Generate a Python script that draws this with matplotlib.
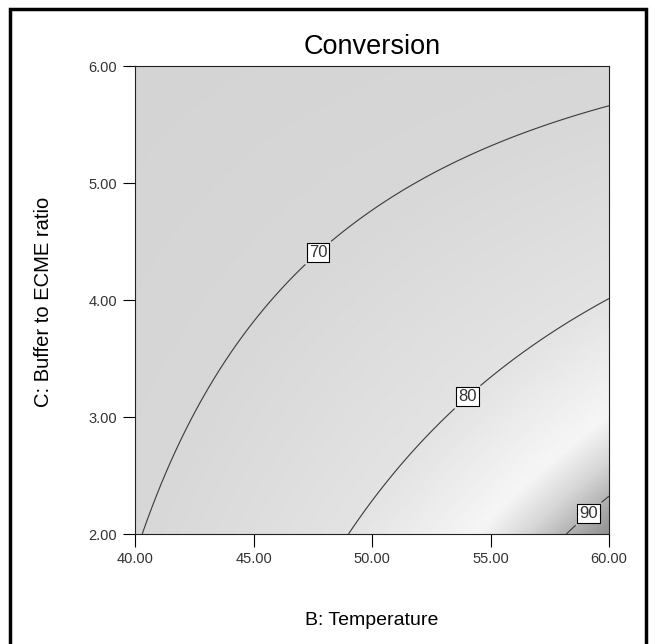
import numpy as np
import matplotlib
matplotlib.use('Agg')
import matplotlib.pyplot as plt
from matplotlib.colors import LinearSegmentedColormap
from matplotlib.patches import Rectangle

plt.rcParams['font.family'] = ['Liberation Sans', 'DejaVu Sans']

# Factor ranges
B_lo, B_hi = 40.0, 60.0      # B: Temperature
C_lo, C_hi = 2.0, 6.0        # C: Buffer to ECME ratio

# Quadratic model for Conversion, in scaled factors
# u = (B - 40)/20, v = (6 - C)/4
b0 = 61.08
b_u, b_v = 8.20, 9.26
b_uv = 15.42
b_uu, b_vv = -1.37, -0.70

levels = [70, 80, 90]
label_pos = [(47.7, 4.41), (53.9, 3.20), (58.8, 2.25)]

xticks = [40.0, 45.0, 50.0, 55.0, 60.0]
yticks = [2.0, 3.0, 4.0, 5.0, 6.0]

def conversion(B, C):
    u = (B - B_lo) / (B_hi - B_lo)
    v = (C_hi - C) / (C_hi - C_lo)
    return b0 + b_u*u + b_v*v + b_uv*u*v + b_uu*u**2 + b_vv*v**2

B = np.linspace(B_lo, B_hi, 300)
C = np.linspace(C_lo, C_hi, 300)
BB, CC = np.meshgrid(B, C)
Z = conversion(BB, CC)

# grey shading: flat grey, light band just under 90, dark in the corner
zmin, zmax = 61.0, 92.0
stops = [(61.0, 0.83), (70.0, 0.845), (80.0, 0.89), (86.0, 0.965),
         (88.3, 0.84), (90.0, 0.71), (92.0, 0.56)]
cmap = LinearSegmentedColormap.from_list(
    'greys_de', [((z - zmin)/(zmax - zmin), (g, g, g)) for z, g in stops])

fig = plt.figure(figsize=(6.55, 6.44), dpi=100)
ax = fig.add_axes([0.2061, 0.1708, 0.7237, 0.7267])

ax.pcolormesh(BB, CC, Z, cmap=cmap, vmin=zmin, vmax=zmax, shading='gouraud')
cs = ax.contour(BB, CC, Z, levels=levels, colors='#3a3a3a', linewidths=0.8)
labels = ax.clabel(cs, fmt='%d', fontsize=12, inline=True, inline_spacing=8,
                   manual=label_pos, colors='#333333')
for t in labels:
    t.set_rotation(0)
    t.set_bbox(dict(boxstyle='square,pad=0.12', fc='white', ec='black', lw=0.8))

ax.set_xlim(B_lo, B_hi)
ax.set_ylim(C_lo, C_hi)
ax.set_xticks(xticks)
ax.set_yticks(yticks)
ax.set_xticklabels(['%.2f' % x for x in xticks])
ax.set_yticklabels(['%.2f' % y for y in yticks])
ax.tick_params(direction='out', length=9, width=0.8, labelsize=10.5,
               labelcolor='#333333', pad=4)
for s in ax.spines.values():
    s.set_linewidth(0.8)
    s.set_color('#222222')

ax.set_title('Conversion', fontsize=19.5, pad=9)
fig.text(0.5679, 0.037, 'B: Temperature', ha='center', va='center', fontsize=14)
fig.text(0.066, 0.5318, 'C: Buffer to ECME ratio', ha='center', va='center',
         rotation=90, fontsize=14.5)

# outer frame
fig.patches.append(Rectangle((0.0155, -0.05), 0.97, 1.036, transform=fig.transFigure,
                             fill=False, ec='black', lw=2.5))

plt.savefig('out.png', dpi=100)
